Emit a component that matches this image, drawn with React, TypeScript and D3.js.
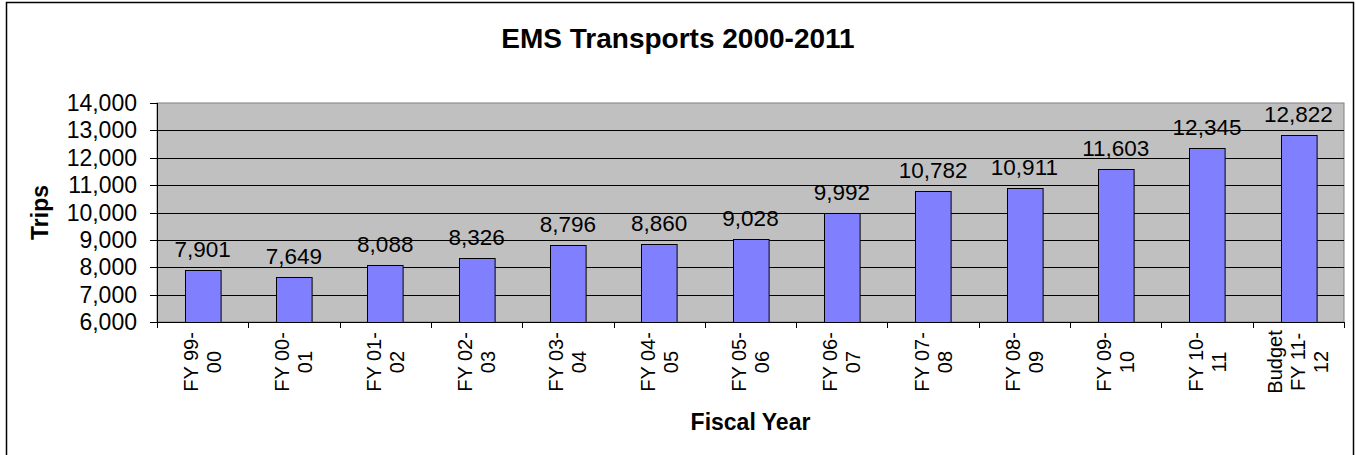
import React, { useEffect, useRef } from "react";
import * as d3 from "d3";

const categories: string[][] = [
  ["FY 99-", "00"],
  ["FY 00-", "01"],
  ["FY 01-", "02"],
  ["FY 02-", "03"],
  ["FY 03-", "04"],
  ["FY 04-", "05"],
  ["FY 05-", "06"],
  ["FY 06-", "07"],
  ["FY 07-", "08"],
  ["FY 08-", "09"],
  ["FY 09-", "10"],
  ["FY 10-", "11"],
  ["Budget", "FY 11-", "12"],
];
const trips: number[] = [7901, 7649, 8088, 8326, 8796, 8860, 9028, 9992, 10782, 10911, 11603, 12345, 12822];
const yTicks: number[] = [6000, 7000, 8000, 9000, 10000, 11000, 12000, 13000, 14000];

const W = 1356;
const H = 455;
const FONT = "'Liberation Sans', Arial, Helvetica, sans-serif";

export default function App() {
  const ref = useRef<SVGSVGElement>(null);

  useEffect(() => {
    const svg = d3.select(ref.current);
    svg.selectAll("*").remove();

    const left = 157, right = 1344, top = 103, bottom = 322;
    const keys = categories.map((_, i) => String(i));
    const x = d3.scaleBand<string>().domain(keys).range([left, right]).paddingInner(0.61).paddingOuter(0.305);
    const xb = d3.scaleBand<string>().domain(keys).range([left, right]);
    const y = d3.scaleLinear().domain([6000, 14000]).range([bottom, top]);
    const fmt = d3.format(",");

    // outer frame
    svg.append("rect").attr("x", 0).attr("y", 0).attr("width", W).attr("height", H).attr("fill", "#fff");
    svg.append("rect").attr("x", 6.5).attr("y", 2.5).attr("width", 1347).attr("height", 470)
      .attr("fill", "none").attr("stroke", "#000").attr("stroke-width", 1.5);

    // plot background
    svg.append("rect").attr("x", left).attr("y", top).attr("width", right - left).attr("height", bottom - top)
      .attr("fill", "#C0C0C0").attr("stroke", "#808080").attr("stroke-width", 1);

    // gridlines
    svg.append("g").selectAll("line").data(yTicks.filter(t => t > 6000 && t < 14000)).join("line")
      .attr("x1", left).attr("x2", right)
      .attr("y1", d => Math.round(y(d)) + 0.5).attr("y2", d => Math.round(y(d)) + 0.5)
      .attr("stroke", "#000").attr("stroke-width", 1);

    // bars
    svg.append("g").selectAll("rect").data(trips).join("rect")
      .attr("x", (_, i) => Math.round(x(String(i))!) + 0.5)
      .attr("y", d => Math.round(y(d)) + 0.5)
      .attr("width", x.bandwidth())
      .attr("height", d => Math.round(bottom) - Math.round(y(d)))
      .attr("fill", "#8080FF").attr("stroke", "#000").attr("stroke-width", 1);

    // data labels
    svg.append("g").selectAll("text").data(trips).join("text")
      .attr("x", (_, i) => x(String(i))! + x.bandwidth() / 2)
      .attr("y", d => y(d) - 13)
      .attr("text-anchor", "middle")
      .attr("font-family", FONT).attr("font-size", 22.5).attr("fill", "#000")
      .text(d => fmt(d));

    // y axis line
    svg.append("line").attr("x1", left + 0.5).attr("x2", left + 0.5).attr("y1", top).attr("y2", bottom + 0.5)
      .attr("stroke", "#000").attr("stroke-width", 1);
    // x axis line
    svg.append("line").attr("x1", left).attr("x2", right + 0.5).attr("y1", bottom + 0.5).attr("y2", bottom + 0.5)
      .attr("stroke", "#000").attr("stroke-width", 1);

    // y ticks
    const yg = svg.append("g");
    yg.selectAll("line").data(yTicks).join("line")
      .attr("x1", left - 7).attr("x2", left)
      .attr("y1", d => Math.round(y(d)) + 0.5).attr("y2", d => Math.round(y(d)) + 0.5)
      .attr("stroke", "#000");
    yg.selectAll("text").data(yTicks).join("text")
      .attr("x", 137).attr("y", d => y(d))
      .attr("dy", "0.35em")
      .attr("text-anchor", "end")
      .attr("font-family", FONT).attr("font-size", 23).attr("fill", "#000")
      .text(d => fmt(d));

    // x ticks at category boundaries
    const bounds = keys.map(k => xb(k)!).concat([right]);
    svg.append("g").selectAll("line").data(bounds).join("line")
      .attr("x1", d => Math.round(d) + 0.5).attr("x2", d => Math.round(d) + 0.5)
      .attr("y1", bottom).attr("y2", bottom + 6)
      .attr("stroke", "#000");

    // x labels rotated
    const lineH = 23;
    const xl = svg.append("g");
    categories.forEach((lines, i) => {
      const cx = xb(String(i))! + xb.bandwidth() / 2;
      const n = lines.length;
      lines.forEach((ln, j) => {
        const lx = cx + (j - (n - 1) / 2) * lineH;
        xl.append("text")
          .attr("transform", `translate(${lx + 7},362) rotate(-90)`)
          .attr("text-anchor", "middle")
          .attr("font-family", FONT).attr("font-size", 20).attr("fill", "#000")
          .text(ln);
      });
    });

    // title
    svg.append("text").attr("x", 678).attr("y", 48).attr("text-anchor", "middle")
      .attr("font-family", FONT).attr("font-size", 28).attr("font-weight", "bold").attr("fill", "#000")
      .text("EMS Transports 2000-2011");

    // axis titles
    svg.append("text").attr("x", (left + right) / 2).attr("y", 430).attr("text-anchor", "middle")
      .attr("font-family", FONT).attr("font-size", 23).attr("font-weight", "bold").attr("fill", "#000")
      .text("Fiscal Year");
    svg.append("text").attr("transform", `translate(48,${(top + bottom) / 2}) rotate(-90)`)
      .attr("text-anchor", "middle")
      .attr("font-family", FONT).attr("font-size", 23).attr("font-weight", "bold").attr("fill", "#000")
      .text("Trips");
  }, []);

  return (
    <svg ref={ref} width={W} height={H}
      style={{ position: "absolute", left: 0, top: 0, display: "block" }} />
  );
}
